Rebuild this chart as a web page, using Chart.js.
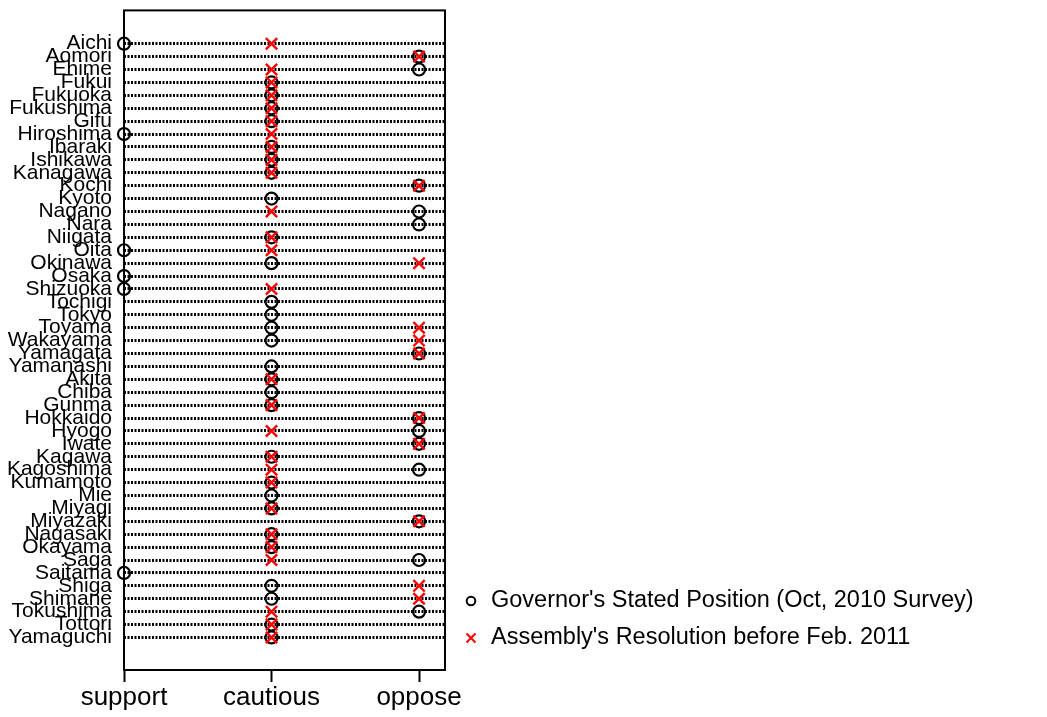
<!DOCTYPE html>
<html>
<head>
<meta charset="utf-8">
<script src="https://cdn.jsdelivr.net/npm/chart.js@4"></script>
<style>
  html, body { margin: 0; padding: 0; background: #ffffff; }
  #chart { display: block; }
</style>
</head>
<body>
<canvas id="chart" width="1047" height="717"></canvas>
<script>
// Positions on the x axis, left to right
const positions = ['support', 'cautious', 'oppose'];

// Prefectures, top to bottom
const prefectures = [
  'Aichi', 'Aomori', 'Ehime', 'Fukui', 'Fukuoka', 'Fukushima', 'Gifu', 'Hiroshima',
  'Ibaraki', 'Ishikawa', 'Kanagawa', 'Kochi', 'Kyoto', 'Nagano', 'Nara', 'Niigata',
  'Oita', 'Okinawa', 'Osaka', 'Shizuoka', 'Tochigi', 'Tokyo', 'Toyama', 'Wakayama',
  'Yamagata', 'Yamanashi', 'Akita', 'Chiba', 'Gunma', 'Hokkaido', 'Hyogo', 'Iwate',
  'Kagawa', 'Kagoshima', 'Kumamoto', 'Mie', 'Miyagi', 'Miyazaki', 'Nagasaki', 'Okayama',
  'Saga', 'Saitama', 'Shiga', 'Shimane', 'Tokushima', 'Tottori', 'Yamaguchi'
];

// Governor's stated position (Oct 2010 survey)
const governorPosition = [
  'support', 'oppose', 'oppose', 'cautious', 'cautious', 'cautious', 'cautious', 'support',
  'cautious', 'cautious', 'cautious', 'oppose', 'cautious', 'oppose', 'oppose', 'cautious',
  'support', 'cautious', 'support', 'support', 'cautious', 'cautious', 'cautious', 'cautious',
  'oppose', 'cautious', 'cautious', 'cautious', 'cautious', 'oppose', 'oppose', 'oppose',
  'cautious', 'oppose', 'cautious', 'cautious', 'cautious', 'oppose', 'cautious', 'cautious',
  'oppose', 'support', 'cautious', 'cautious', 'oppose', 'cautious', 'cautious'
];

// Prefectural assembly resolution before Feb 2011 (null = no resolution)
const assemblyPosition = [
  'cautious', 'oppose', 'cautious', 'cautious', 'cautious', 'cautious', 'cautious', 'cautious',
  'cautious', 'cautious', 'cautious', 'oppose', null, 'cautious', null, 'cautious',
  'cautious', 'oppose', null, 'cautious', null, null, 'oppose', 'oppose',
  'oppose', null, 'cautious', null, 'cautious', 'oppose', 'cautious', 'oppose',
  'cautious', 'cautious', 'cautious', null, 'cautious', 'oppose', 'cautious', 'cautious',
  'cautious', null, 'oppose', 'oppose', 'cautious', 'cautious', 'cautious'
];

const seriesNames = [
  "Governor's Stated Position (Oct, 2010 Survey)",
  "Assembly's Resolution before Feb. 2011"
];

const FONT = '"Liberation Sans", Arial, Helvetica, sans-serif';

function toPoints(list) {
  const pts = [];
  list.forEach((p, i) => {
    if (p !== null) pts.push({ x: positions.indexOf(p) + 1, y: i + 1 });
  });
  return pts;
}

function noScalePadding(scale) {
  scale.paddingTop = 0;
  scale.paddingBottom = 0;
  scale.paddingLeft = 0;
  scale.paddingRight = 0;
}

// Frame around the plotting region
const frame = {
  id: 'frame',
  beforeDatasetsDraw(chart) {
    const { ctx, chartArea: a } = chart;
    ctx.save();
    ctx.strokeStyle = '#000';
    ctx.lineWidth = 2;
    ctx.strokeRect(a.left, a.top, a.right - a.left, a.bottom - a.top);
    ctx.restore();
  }
};

// Key to the two marker types, to the right of the plot
const key = {
  id: 'key',
  afterDraw(chart) {
    const ctx = chart.ctx;
    const mx = 471, tx = 491;
    const rows = [601, 638];
    ctx.save();
    ctx.lineWidth = 2;
    ctx.strokeStyle = '#000';
    ctx.beginPath();
    ctx.arc(mx, rows[0], 4.3, 0, Math.PI * 2);
    ctx.stroke();
    ctx.strokeStyle = '#ff0000';
    ctx.lineWidth = 2;
    ctx.beginPath();
    ctx.moveTo(mx - 4.5, rows[1] - 4.5); ctx.lineTo(mx + 4.5, rows[1] + 4.5);
    ctx.moveTo(mx - 4.5, rows[1] + 4.5); ctx.lineTo(mx + 4.5, rows[1] - 4.5);
    ctx.stroke();
    ctx.fillStyle = '#000';
    ctx.font = '23.5px ' + FONT;
    ctx.textBaseline = 'middle';
    ctx.textAlign = 'left';
    ctx.fillText(seriesNames[0], tx, rows[0]);
    ctx.fillText(seriesNames[1], tx, rows[1]);
    ctx.restore();
  }
};

new Chart(document.getElementById('chart'), {
  type: 'scatter',
  data: {
    datasets: [
      {
        label: seriesNames[0],
        data: toPoints(governorPosition),
        pointStyle: 'circle',
        pointRadius: 6,
        pointHoverRadius: 6,
        borderColor: '#000',
        backgroundColor: 'rgba(0,0,0,0)',
        borderWidth: 2.2,
        order: 2,
        clip: false
      },
      {
        label: seriesNames[1],
        data: toPoints(assemblyPosition),
        pointStyle: 'crossRot',
        pointRadius: 8,
        pointHoverRadius: 8,
        borderColor: '#ff0000',
        backgroundColor: '#ff0000',
        borderWidth: 2.4,
        order: 1,
        clip: false
      }
    ]
  },
  options: {
    responsive: false,
    animation: false,
    events: [],
    layout: { padding: { left: 0, right: 602, top: 7, bottom: 0 } },
    plugins: {
      legend: { display: false },
      tooltip: { enabled: false }
    },
    scales: {
      x: {
        type: 'linear',
        min: 1,
        max: 3.176,
        afterBuildTicks(scale) {
          scale.ticks = positions.map((_, i) => ({ value: i + 1 }));
        },
        afterFit(scale) { scale.height = 47; noScalePadding(scale); },
        ticks: {
          callback: (v) => positions[v - 1],
          color: '#000',
          font: { family: FONT, size: 26 },
          padding: 0,
          maxRotation: 0,
          autoSkip: false
        },
        grid: {
          display: true,
          drawOnChartArea: false,
          drawTicks: true,
          tickLength: 12,
          tickColor: '#000',
          tickWidth: 2
        },
        border: { display: false }
      },
      y: {
        type: 'linear',
        reverse: true,
        min: -1.58,
        max: 49.52,
        afterBuildTicks(scale) {
          scale.ticks = prefectures.map((_, i) => ({ value: i + 1 }));
        },
        afterFit(scale) { scale.width = 124; noScalePadding(scale); },
        ticks: {
          callback: (v) => prefectures[v - 1],
          color: '#000',
          font: { family: FONT, size: 21 },
          padding: 12,
          autoSkip: false
        },
        grid: {
          display: true,
          drawOnChartArea: true,
          drawTicks: false,
          color: '#000',
          lineWidth: 3
        },
        border: { display: false, dash: [2, 1.5] }
      }
    }
  },
  plugins: [frame, key]
});
</script>
</body>
</html>
